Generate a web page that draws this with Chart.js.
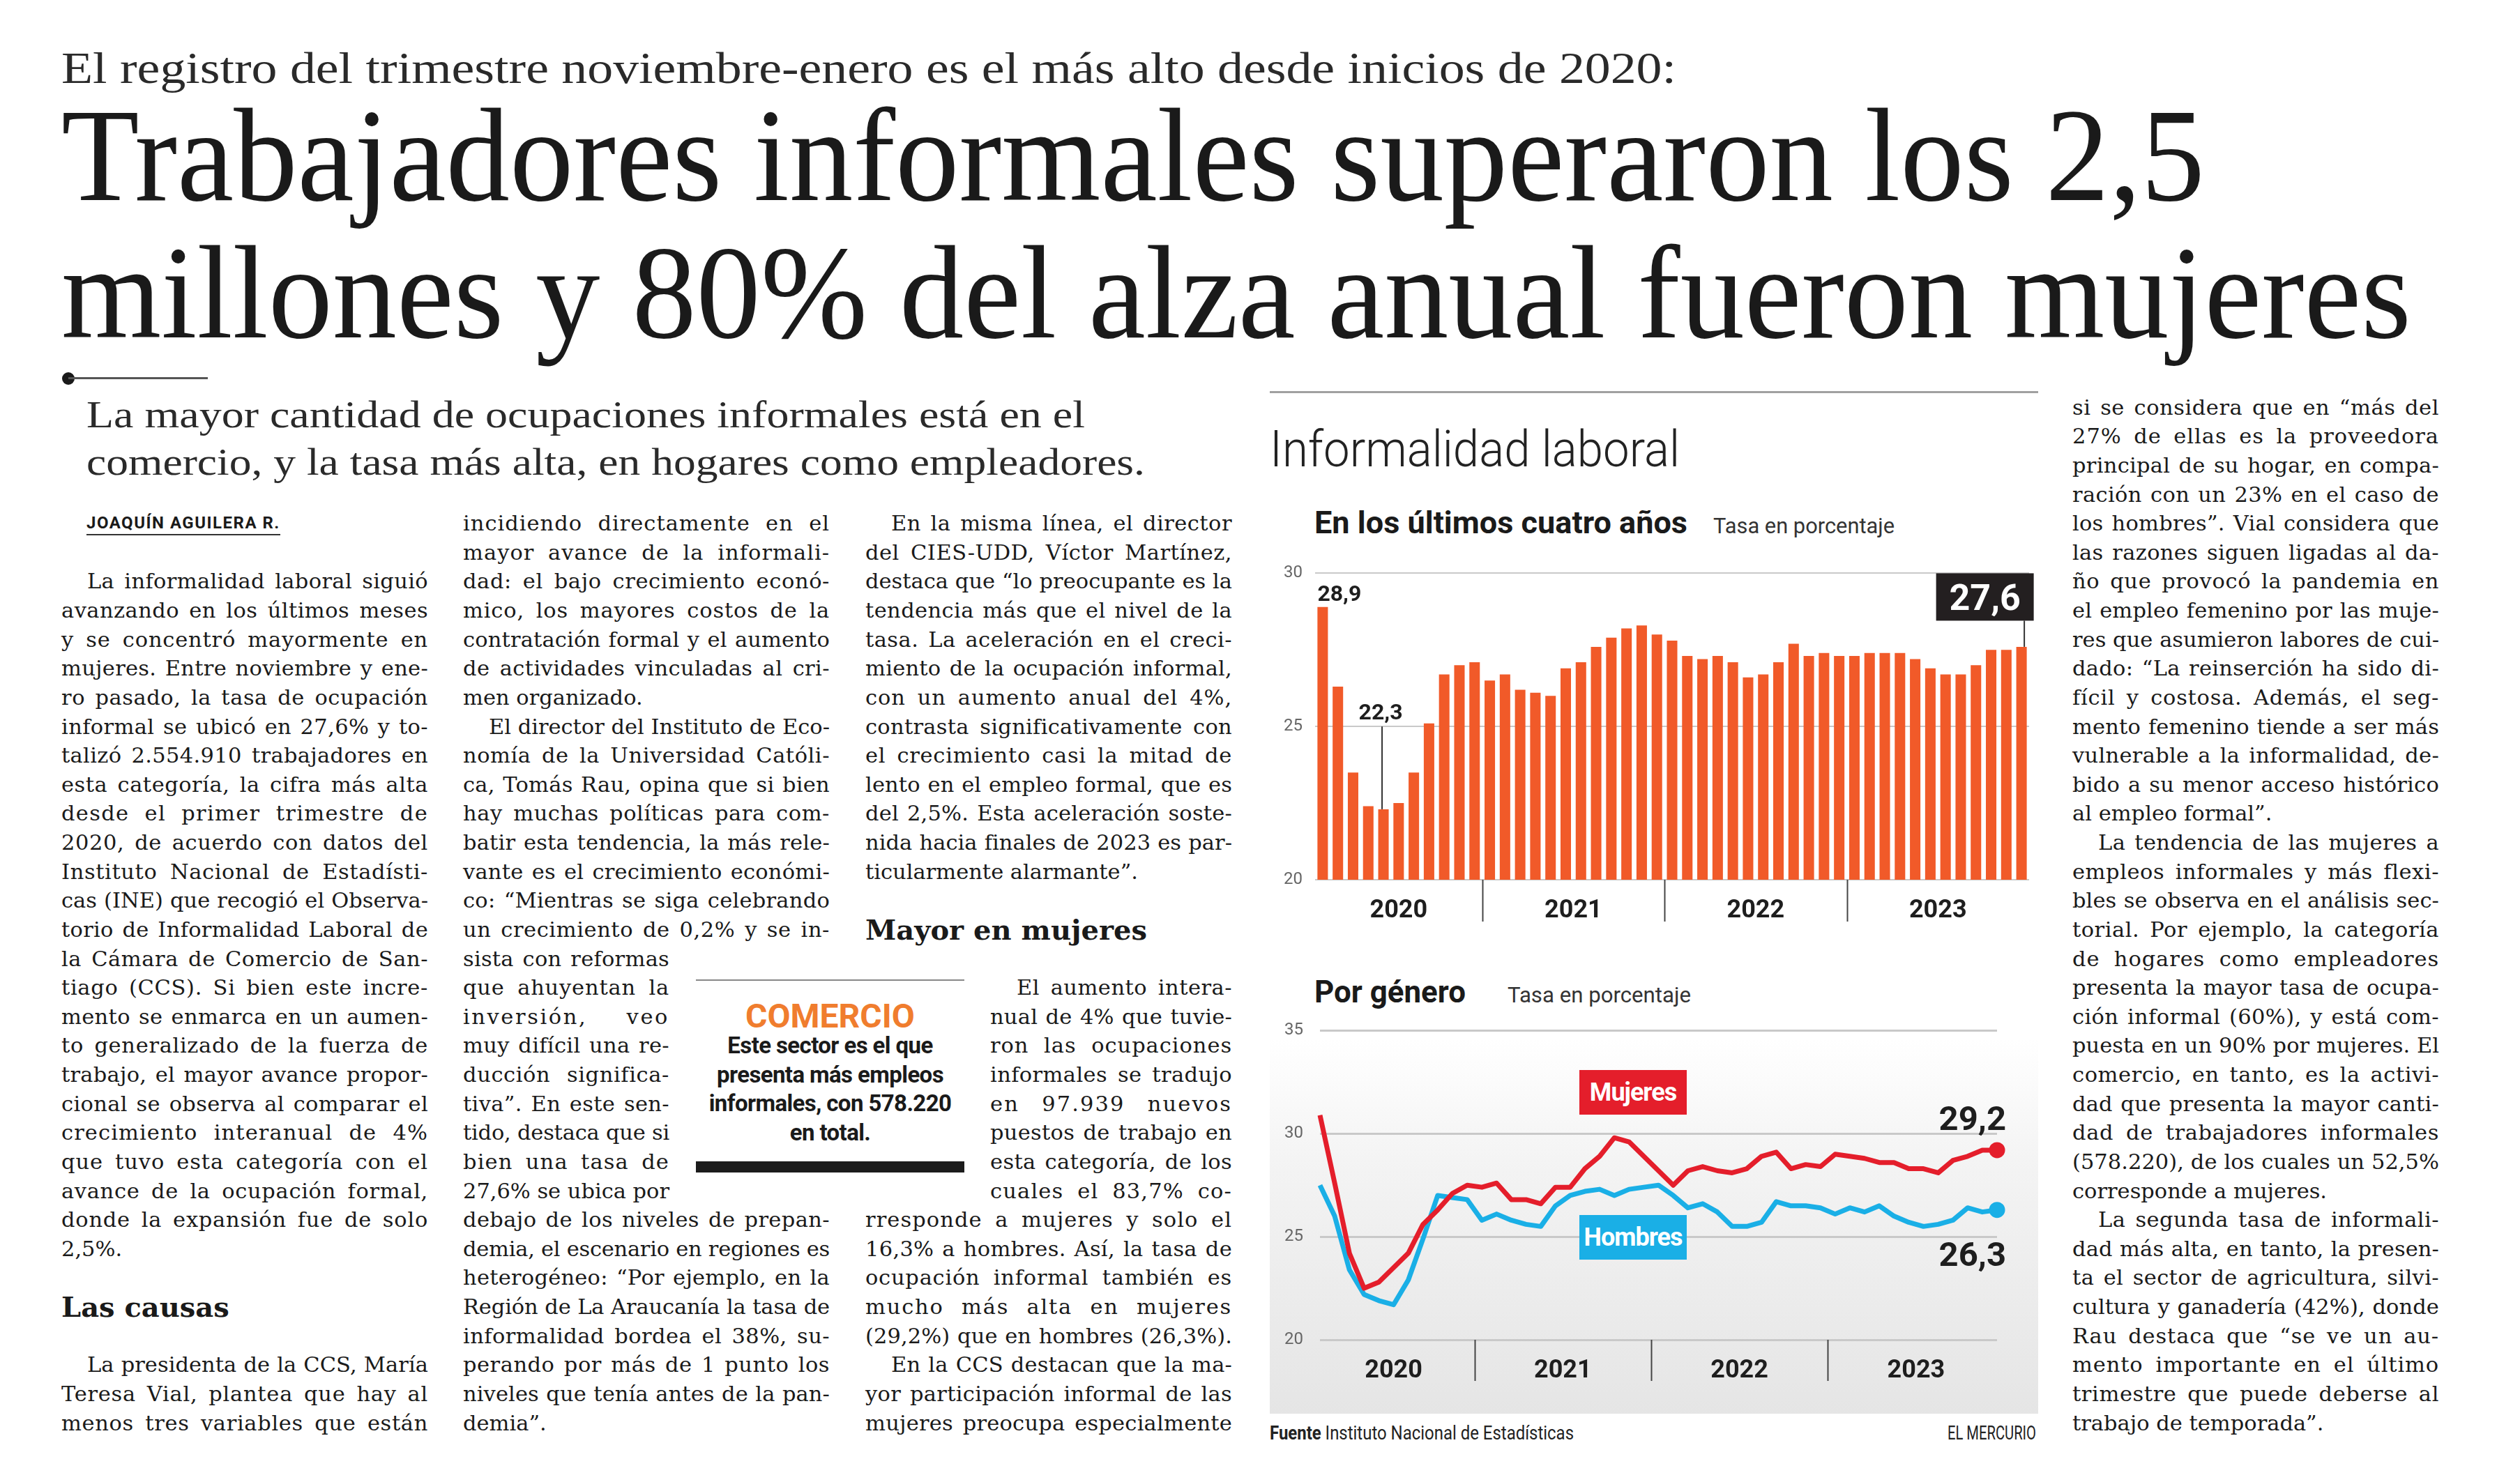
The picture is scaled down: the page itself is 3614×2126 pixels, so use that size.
<!DOCTYPE html>
<html lang="es">
<head>
<meta charset="utf-8">
<title>Informalidad laboral</title>
<script src="https://cdn.jsdelivr.net/npm/chart.js@4.4.1/dist/chart.umd.min.js"></script>
<style>
html, body { margin: 0; padding: 0; background: #fff; }
body { width: 3614px; height: 2126px; position: relative; overflow: hidden; color: #1c1c1c; }
.abs { position: absolute; white-space: nowrap; line-height: 1; }
.hl { line-height: 0.9; }
.fit { display: inline-block; transform-origin: 0 0; white-space: nowrap; }
.serif { font-family: 'Liberation Serif', serif; }
.sans { font-family: Roboto, sans-serif; }
.col { position: absolute; width: 526px; font-family: 'DejaVu Serif', serif; font-size: 30.5px; line-height: 41.63px; color: #1a1a1a; }
.ln { height: 41.63px; white-space: nowrap; }
.gap { height: 41.63px; }
.ind { margin-left: 37px; }
.nw { margin-right: 230px; }
.nl { margin-left: 179px; }
.nl.ind { margin-left: 217px; }
.sub { height: 124.9px; display: flex; align-items: center; font-weight: bold; font-size: 40px; white-space: nowrap; }
.by { font-family: Roboto, sans-serif; font-weight: bold; font-size: 24px; letter-spacing: 1.5px; margin-left: 36px; }
.by span { border-bottom: 2px solid #333; padding-bottom: 2px; }
.lg { position: absolute; left: 2265px; width: 154px; height: 64px; color: #fff; font: bold 36px Roboto, sans-serif; letter-spacing: -1px; display: flex; align-items: center; justify-content: center; }
.box { position: absolute; }
</style>
</head>
<body>

<!-- cabecera -->
<div class="abs serif" style="left:88px; top:66px; font-size:64px; color:#2a2a2a;"><span class="fit" data-w="2316">El registro del trimestre noviembre-enero es el más alto desde inicios de 2020:</span></div>
<div class="abs serif hl" style="left:88px; top:138.4px; font-size:190px; color:#1a1a1a;"><span class="fit" data-w="3074">Trabajadores informales superaron los 2,5</span></div>
<div class="abs serif hl" style="left:88px; top:335.4px; font-size:190px; color:#1a1a1a;"><span class="fit" data-w="3370">millones y 80% del alza anual fueron mujeres</span></div>
<div class="box" style="left:89px; top:534px; width:18px; height:18px; border-radius:50%; background:#1a1a1a;"></div>
<div class="box" style="left:98px; top:541px; width:200px; height:3px; background:#555;"></div>
<div class="abs serif" style="left:124px; top:568px; font-size:54px; color:#2a2a2a;"><span class="fit" data-w="1432">La mayor cantidad de ocupaciones informales está en el</span></div>
<div class="abs serif" style="left:124px; top:636px; font-size:54px; color:#2a2a2a;"><span class="fit" data-w="1518">comercio, y la tasa más alta, en hogares como empleadores.</span></div>

<!-- columna 1 -->
<div class="col" style="left:88px; top:730.2px;">
<div class="ln by last">JOAQUÍN AGUILERA R.</div>
<div class="gap"></div>
<div class="ln ind">La informalidad laboral siguió</div>
<div class="ln">avanzando en los últimos meses</div>
<div class="ln">y se concentró mayormente en</div>
<div class="ln">mujeres. Entre noviembre y ene-</div>
<div class="ln">ro pasado, la tasa de ocupación</div>
<div class="ln">informal se ubicó en 27,6% y to-</div>
<div class="ln">talizó 2.554.910 trabajadores en</div>
<div class="ln">esta categoría, la cifra más alta</div>
<div class="ln">desde el primer trimestre de</div>
<div class="ln">2020, de acuerdo con datos del</div>
<div class="ln">Instituto Nacional de Estadísti-</div>
<div class="ln">cas (INE) que recogió el Observa-</div>
<div class="ln">torio de Informalidad Laboral de</div>
<div class="ln">la Cámara de Comercio de San-</div>
<div class="ln">tiago (CCS). Si bien este incre-</div>
<div class="ln">mento se enmarca en un aumen-</div>
<div class="ln">to generalizado de la fuerza de</div>
<div class="ln">trabajo, el mayor avance propor-</div>
<div class="ln">cional se observa al comparar el</div>
<div class="ln">crecimiento interanual de 4%</div>
<div class="ln">que tuvo esta categoría con el</div>
<div class="ln">avance de la ocupación formal,</div>
<div class="ln">donde la expansión fue de solo</div>
<div class="ln last">2,5%.</div>
<div class="sub">Las causas</div>
<div class="ln ind">La presidenta de la CCS, María</div>
<div class="ln">Teresa Vial, plantea que hay al</div>
<div class="ln">menos tres variables que están</div>
</div>

<!-- columna 2 -->
<div class="col" style="left:664px; top:730.2px;">
<div class="ln">incidiendo directamente en el</div>
<div class="ln">mayor avance de la informali-</div>
<div class="ln">dad: el bajo crecimiento econó-</div>
<div class="ln">mico, los mayores costos de la</div>
<div class="ln">contratación formal y el aumento</div>
<div class="ln">de actividades vinculadas al cri-</div>
<div class="ln last">men organizado.</div>
<div class="ln ind">El director del Instituto de Eco-</div>
<div class="ln">nomía de la Universidad Católi-</div>
<div class="ln">ca, Tomás Rau, opina que si bien</div>
<div class="ln">hay muchas políticas para com-</div>
<div class="ln">batir esta tendencia, la más rele-</div>
<div class="ln">vante es el crecimiento económi-</div>
<div class="ln">co: “Mientras se siga celebrando</div>
<div class="ln">un crecimiento de 0,2% y se in-</div>
<div class="ln nw">sista con reformas</div>
<div class="ln nw">que ahuyentan la</div>
<div class="ln nw">inversión, veo</div>
<div class="ln nw">muy difícil una re-</div>
<div class="ln nw">ducción significa-</div>
<div class="ln nw">tiva”. En este sen-</div>
<div class="ln nw">tido, destaca que si</div>
<div class="ln nw">bien una tasa de</div>
<div class="ln nw">27,6% se ubica por</div>
<div class="ln">debajo de los niveles de prepan-</div>
<div class="ln">demia, el escenario en regiones es</div>
<div class="ln">heterogéneo: “Por ejemplo, en la</div>
<div class="ln">Región de La Araucanía la tasa de</div>
<div class="ln">informalidad bordea el 38%, su-</div>
<div class="ln">perando por más de 1 punto los</div>
<div class="ln">niveles que tenía antes de la pan-</div>
<div class="ln last">demia”.</div>
</div>

<!-- recuadro comercio -->
<div class="box" style="left:998px; top:1405px; width:385px; height:2px; background:#888;"></div>
<div class="abs sans" style="left:998px; width:385px; top:1433.6px; font-size:48px; font-weight:bold; color:#f07d2e; text-align:center;">COMERCIO</div>
<div class="abs sans" style="left:998px; width:385px; top:1479px; font-size:33px; font-weight:bold; line-height:41.63px; text-align:center; color:#1a1a1a; letter-spacing:-0.6px;">Este sector es el que<br>presenta más empleos<br>informales, con 578.220<br>en total.</div>
<div class="box" style="left:998px; top:1666px; width:385px; height:16px; background:#1c1c1c;"></div>

<!-- columna 3 -->
<div class="col" style="left:1241px; top:730.2px;">
<div class="ln ind">En la misma línea, el director</div>
<div class="ln">del CIES-UDD, Víctor Martínez,</div>
<div class="ln">destaca que “lo preocupante es la</div>
<div class="ln">tendencia más que el nivel de la</div>
<div class="ln">tasa. La aceleración en el creci-</div>
<div class="ln">miento de la ocupación informal,</div>
<div class="ln">con un aumento anual del 4%,</div>
<div class="ln">contrasta significativamente con</div>
<div class="ln">el crecimiento casi la mitad de</div>
<div class="ln">lento en el empleo formal, que es</div>
<div class="ln">del 2,5%. Esta aceleración soste-</div>
<div class="ln">nida hacia finales de 2023 es par-</div>
<div class="ln last">ticularmente alarmante”.</div>
<div class="sub">Mayor en mujeres</div>
<div class="ln nl ind">El aumento intera-</div>
<div class="ln nl">nual de 4% que tuvie-</div>
<div class="ln nl">ron las ocupaciones</div>
<div class="ln nl">informales se tradujo</div>
<div class="ln nl">en 97.939 nuevos</div>
<div class="ln nl">puestos de trabajo en</div>
<div class="ln nl">esta categoría, de los</div>
<div class="ln nl">cuales el 83,7% co-</div>
<div class="ln">rresponde a mujeres y solo el</div>
<div class="ln">16,3% a hombres. Así, la tasa de</div>
<div class="ln">ocupación informal también es</div>
<div class="ln">mucho más alta en mujeres</div>
<div class="ln">(29,2%) que en hombres (26,3%).</div>
<div class="ln ind">En la CCS destacan que la ma-</div>
<div class="ln">yor participación informal de las</div>
<div class="ln">mujeres preocupa especialmente</div>
</div>

<!-- columna derecha -->
<div class="col" style="left:2972px; top:563.7px;">
<div class="ln">si se considera que en “más del</div>
<div class="ln">27% de ellas es la proveedora</div>
<div class="ln">principal de su hogar, en compa-</div>
<div class="ln">ración con un 23% en el caso de</div>
<div class="ln">los hombres”. Vial considera que</div>
<div class="ln">las razones siguen ligadas al da-</div>
<div class="ln">ño que provocó la pandemia en</div>
<div class="ln">el empleo femenino por las muje-</div>
<div class="ln">res que asumieron labores de cui-</div>
<div class="ln">dado: “La reinserción ha sido di-</div>
<div class="ln">fícil y costosa. Además, el seg-</div>
<div class="ln">mento femenino tiende a ser más</div>
<div class="ln">vulnerable a la informalidad, de-</div>
<div class="ln">bido a su menor acceso histórico</div>
<div class="ln last">al empleo formal”.</div>
<div class="ln ind">La tendencia de las mujeres a</div>
<div class="ln">empleos informales y más flexi-</div>
<div class="ln">bles se observa en el análisis sec-</div>
<div class="ln">torial. Por ejemplo, la categoría</div>
<div class="ln">de hogares como empleadores</div>
<div class="ln">presenta la mayor tasa de ocupa-</div>
<div class="ln">ción informal (60%), y está com-</div>
<div class="ln">puesta en un 90% por mujeres. El</div>
<div class="ln">comercio, en tanto, es la activi-</div>
<div class="ln">dad que presenta la mayor canti-</div>
<div class="ln">dad de trabajadores informales</div>
<div class="ln">(578.220), de los cuales un 52,5%</div>
<div class="ln last">corresponde a mujeres.</div>
<div class="ln ind">La segunda tasa de informali-</div>
<div class="ln">dad más alta, en tanto, la presen-</div>
<div class="ln">ta el sector de agricultura, silvi-</div>
<div class="ln">cultura y ganadería (42%), donde</div>
<div class="ln">Rau destaca que “se ve un au-</div>
<div class="ln">mento importante en el último</div>
<div class="ln">trimestre que puede deberse al</div>
<div class="ln last">trabajo de temporada”.</div>
</div>

<!-- infografía -->
<div class="box" style="left:1821px; top:561px; width:1102px; height:3px; background:#a0a0a0;"></div>
<div class="abs sans" style="left:1821px; top:609.4px; font-size:72px; font-weight:300; color:#222;"><span class="fit" data-w="588">Informalidad laboral</span></div>
<div class="abs sans" style="left:1885px; top:728px; font-size:44px; font-weight:bold; color:#1a1a1a;"><span class="fit" data-w="535">En los últimos cuatro años</span></div>
<div class="abs sans" style="left:2457px; top:738.9px; font-size:31px; color:#333;"><span class="fit" data-w="260">Tasa en porcentaje</span></div>

<div class="box" style="left:1821px; top:790px; width:1110px; height:560px;"><canvas id="barras"></canvas></div>

<div class="abs sans" style="left:1885px; top:1400.6px; font-size:44px; font-weight:bold; color:#1a1a1a;"><span class="fit" data-w="217">Por género</span></div>
<div class="abs sans" style="left:2162px; top:1412px; font-size:31px; color:#333;"><span class="fit" data-w="263">Tasa en porcentaje</span></div>

<div class="box" style="left:1821px; top:1490px; width:1102px; height:538px; background:linear-gradient(to bottom, #ffffff 0%, #f3f3f3 35%, #e5e5e5 100%);"></div>
<div class="box" style="left:1821px; top:1440px; width:1110px; height:570px;"><canvas id="lineas"></canvas></div>
<div class="lg" style="top:1535px; background:#e41e2b;">Mujeres</div>
<div class="lg" style="top:1743px; background:#1aafe6;">Hombres</div>

<div class="abs sans" style="left:1821px; top:2042.4px; font-size:28px; color:#222;"><span class="fit" data-w="436"><b>Fuente</b> Instituto Nacional de Estadísticas</span></div>
<div class="abs sans" style="left:2793px; top:2042.4px; font-size:28px; color:#222;"><span class="fit" data-w="127">EL MERCURIO</span></div>

<script>
// trimestres móviles, agrupados por el año de su mes central
const PERIODS = [
	'EFM 2020', 'FMA 2020', 'MAM 2020', 'AMJ 2020', 'MJJ 2020', 'JJA 2020', 'JAS 2020', 'ASO 2020', 'SON 2020', 'OND 2020', 'NDE 2020',
	'DEF 2021', 'EFM 2021', 'FMA 2021', 'MAM 2021', 'AMJ 2021', 'MJJ 2021', 'JJA 2021', 'JAS 2021', 'ASO 2021', 'SON 2021', 'OND 2021', 'NDE 2021',
	'DEF 2022', 'EFM 2022', 'FMA 2022', 'MAM 2022', 'AMJ 2022', 'MJJ 2022', 'JJA 2022', 'JAS 2022', 'ASO 2022', 'SON 2022', 'OND 2022', 'NDE 2022',
	'DEF 2023', 'EFM 2023', 'FMA 2023', 'MAM 2023', 'AMJ 2023', 'MJJ 2023', 'JJA 2023', 'JAS 2023', 'ASO 2023', 'SON 2023', 'OND 2023', 'NDE 2023',
]
const TASA_TOTAL = [
	28.9, 26.3, 23.5, 22.4, 22.3, 22.5, 23.5, 25.1, 26.7, 27.0, 27.1,
	26.5, 26.7, 26.2, 26.1, 26.0, 26.9, 27.1, 27.6, 27.9, 28.2, 28.3, 28.0,
	27.8, 27.3, 27.2, 27.3, 27.1, 26.6, 26.7, 27.1, 27.7, 27.3, 27.4, 27.3,
	27.3, 27.4, 27.4, 27.4, 27.2, 26.9, 26.7, 26.7, 27.0, 27.5, 27.5, 27.6,
]
const TASA_MUJERES = [
	30.9, 27.6, 24.2, 22.5, 22.8, 23.5, 24.2, 25.6, 26.3, 27.1, 27.5,
	27.4, 27.6, 26.8, 26.8, 26.6, 27.4, 27.4, 28.3, 28.9, 29.8, 29.6, 28.9,
	28.2, 27.5, 28.2, 28.4, 28.2, 28.1, 28.3, 28.9, 29.1, 28.3, 28.5, 28.4,
	29.0, 28.9, 28.8, 28.6, 28.6, 28.3, 28.3, 28.1, 28.7, 28.9, 29.2, 29.2,
]
const TASA_HOMBRES = [
	27.5, 26.0, 23.4, 22.2, 21.9, 21.7, 22.9, 24.9, 27.0, 26.9, 26.8,
	25.8, 26.1, 25.8, 25.6, 25.5, 26.5, 27.0, 27.2, 27.3, 27.0, 27.3, 27.4,
	27.5, 27.0, 26.4, 26.6, 26.2, 25.5, 25.5, 25.7, 26.7, 26.5, 26.5, 26.4,
	26.1, 26.4, 26.2, 26.5, 26.0, 25.7, 25.5, 25.6, 25.8, 26.4, 26.2, 26.3,
]
const TICKS_BARRAS = [20, 25, 30]
const TICKS_LINEAS = [20, 25, 30, 35]

const NARANJA = '#f15a29'
const ROJO = '#e41e2b'
const CELESTE = '#1aafe6'

Chart.defaults.font.family = 'Roboto'

function fmt (v) {
	return v.toFixed(1).replace('.', ',')
}

function group_years (labels) {
	const groups = []
	labels.forEach(function (label, idx) {
		const year = label.slice(-4)
		const last = groups[groups.length - 1]
		if (last && last.year === year) last.last = idx
		else groups.push({ year: year, first: idx, last: idx })
	})
	return groups
}

// años bajo el eje x, con separadores entre grupos
const year_axis = {
	id: 'year_axis',
	afterDraw (chart, args, opts) {
		const { ctx, chartArea } = chart
		const x = chart.scales.x
		const groups = group_years(chart.data.labels)
		ctx.save()
		ctx.font = 'bold 36px Roboto'
		ctx.fillStyle = '#1e1e1e'
		ctx.textAlign = 'center'
		ctx.strokeStyle = '#444'
		ctx.lineWidth = 2
		groups.forEach(function (g, idx) {
			const x0 = x.getPixelForValue(g.first)
			const x1 = x.getPixelForValue(g.last)
			ctx.fillText(g.year, (x0 + x1) / 2, chartArea.bottom + 54)
			if (idx > 0) {
				const xd = Math.round((x.getPixelForValue(g.first - 1) + x0) / 2) + 0.5
				ctx.beginPath()
				ctx.moveTo(xd, chartArea.bottom)
				ctx.lineTo(xd, chartArea.bottom + opts.tick)
				ctx.stroke()
			}
		})
		ctx.restore()
	},
}

const bar_labels = {
	id: 'bar_labels',
	afterDatasetsDraw (chart) {
		const { ctx, chartArea } = chart
		const meta = chart.getDatasetMeta(0)
		const values = chart.data.datasets[0].data
		const y = chart.scales.y
		ctx.save()
		ctx.fillStyle = '#1e1e1e'
		ctx.strokeStyle = '#333'
		ctx.lineWidth = 2
		ctx.font = 'bold 32px Roboto'

		const first = meta.data[0]
		ctx.textAlign = 'left'
		ctx.fillText(fmt(values[0]), first.x - first.width / 2, first.y - 9)

		const i_min = values.indexOf(Math.min(...values))
		const low = meta.data[i_min]
		const y_mid = y.getPixelForValue(25)
		ctx.textAlign = 'center'
		ctx.fillText(fmt(values[i_min]), low.x - 4, y_mid - 10)
		ctx.beginPath()
		ctx.moveTo(low.x - 2, y_mid)
		ctx.lineTo(low.x - 2, low.y)
		ctx.stroke()

		const i_last = values.length - 1
		const last = meta.data[i_last]
		const right = last.x + last.width / 2 + 10
		ctx.fillStyle = '#231f20'
		ctx.fillRect(right - 140, chartArea.top, 140, 68)
		ctx.fillStyle = '#fff'
		ctx.font = 'bold 52px Roboto'
		ctx.fillText(fmt(values[i_last]), right - 70, chartArea.top + 53)
		ctx.beginPath()
		ctx.moveTo(last.x + 4, chartArea.top + 68)
		ctx.lineTo(last.x + 4, last.y)
		ctx.stroke()
		ctx.restore()
	},
}

const end_labels = {
	id: 'end_labels',
	afterDatasetsDraw (chart) {
		const { ctx } = chart
		const ends = chart.data.datasets.map(ds => ds.data[ds.data.length - 1])
		const top = Math.max(...ends)
		ctx.save()
		ctx.font = 'bold 49px Roboto'
		ctx.fillStyle = '#1e1e1e'
		ctx.textAlign = 'right'
		chart.data.datasets.forEach(function (ds, i) {
			const meta = chart.getDatasetMeta(i)
			const p = meta.data[meta.data.length - 1]
			const v = ends[i]
			ctx.fillText(fmt(v), p.x + 13, v === top ? p.y - 29 : p.y + 80)
		})
		ctx.restore()
	},
}

function y_axis (ticks, width, pad, grid_width) {
	return {
		min: ticks[0],
		max: ticks[ticks.length - 1],
		ticks: { stepSize: ticks[1] - ticks[0], padding: pad, color: '#666', font: { size: 24 } },
		grid: { color: '#c9c9c9', lineWidth: grid_width, drawTicks: false },
		border: { display: false },
		afterFit (s) { s.width = width },
	}
}

const x_axis = {
	grid: { display: false },
	border: { display: false },
	ticks: { display: false },
	afterFit (s) { s.height = 88 },
}

function draw_charts () {
	new Chart(document.getElementById('barras'), {
		type: 'bar',
		data: {
			labels: PERIODS,
			datasets: [
				{
					label: 'Tasa de ocupación informal',
					data: TASA_TOTAL,
					backgroundColor: NARANJA,
					barPercentage: 0.69,
					categoryPercentage: 1,
				},
			],
		},
		options: {
			responsive: true,
			maintainAspectRatio: false,
			animation: false,
			layout: { padding: { top: 15, right: 21, left: 0, bottom: 0 } },
			plugins: { legend: { display: false }, tooltip: { enabled: false }, year_axis: { tick: 60 } },
			scales: {
				x: x_axis,
				y: y_axis(TICKS_BARRAS, 65, 18, 2),
			},
		},
		plugins: [year_axis, bar_labels],
	})

	const end_dot = ctx => ctx.dataIndex === PERIODS.length - 1 ? 11.5 : 0
	new Chart(document.getElementById('lineas'), {
		type: 'line',
		data: {
			labels: PERIODS,
			datasets: [
				{
					label: 'Mujeres',
					data: TASA_MUJERES,
					borderColor: ROJO,
					backgroundColor: ROJO,
					borderWidth: 7,
					borderJoinStyle: 'round',
					pointRadius: end_dot,
					pointBorderWidth: 0,
					clip: false,
				},
				{
					label: 'Hombres',
					data: TASA_HOMBRES,
					borderColor: CELESTE,
					backgroundColor: CELESTE,
					borderWidth: 7,
					borderJoinStyle: 'round',
					pointRadius: end_dot,
					pointBorderWidth: 0,
					clip: false,
				},
			],
		},
		options: {
			responsive: true,
			maintainAspectRatio: false,
			animation: false,
			layout: { padding: { top: 26, right: 67, left: 0, bottom: 0 } },
			plugins: { legend: { display: false }, tooltip: { enabled: false }, year_axis: { tick: 59 } },
			scales: {
				x: x_axis,
				y: y_axis(TICKS_LINEAS, 72, 24, 3),
			},
		},
		plugins: [year_axis, end_labels],
	})
}

function fit_titles () {
	document.querySelectorAll('[data-w]').forEach(function (el) {
		const target = parseFloat(el.dataset.w)
		const natural = el.getBoundingClientRect().width
		el.style.transform = 'scaleX(' + (target / natural) + ')'
	})
}

// justificado línea a línea, como en la página impresa
function justify_lines () {
	document.querySelectorAll('.ln').forEach(function (el) {
		el.innerHTML = '<span>' + el.innerHTML + '</span>'
		const span = el.firstElementChild
		const w = el.clientWidth
		const text = span.textContent
		const n_chars = text.length
		const n_spaces = (text.match(/ /g) || []).length
		let natural = span.getBoundingClientRect().width
		if (natural > w) {
			span.style.letterSpacing = ((w - natural) / n_chars) + 'px'
			return
		}
		if (el.classList.contains('last')) return
		const ls = Math.min((w - natural) * 0.45 / n_chars, 6)
		span.style.letterSpacing = ls + 'px'
		natural = span.getBoundingClientRect().width
		if (n_spaces > 0) span.style.wordSpacing = ((w - natural) / n_spaces) + 'px'
		else span.style.letterSpacing = (ls + (w - natural) / n_chars) + 'px'
	})
}

document.fonts.ready.then(function () {
	justify_lines()
	fit_titles()
	draw_charts()
})
</script>
</body>
</html>
